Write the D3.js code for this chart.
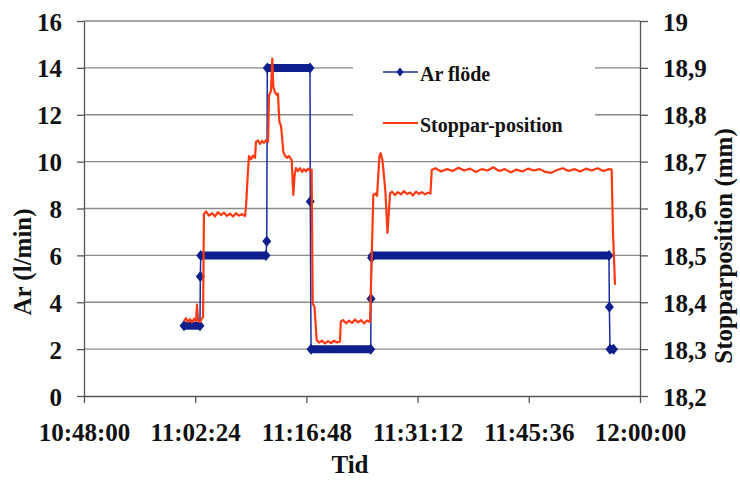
<!DOCTYPE html>
<html>
<head>
<meta charset="utf-8">
<script src="https://cdn.jsdelivr.net/npm/d3@7"></script>
<style>
  body { margin: 0; background: #fff; }
  text { font-family: "Liberation Serif", "Times New Roman", serif; font-weight: bold; fill: #111; }
</style>
</head>
<body>
<div id="chart-area"></div>
<script>
// Data
// ****
const xTicks = ["10:48:00", "11:02:24", "11:16:48", "11:31:12", "11:45:36", "12:00:00"]
const leftTicks = [0, 2, 4, 6, 8, 10, 12, 14, 16]
const rightTicks = [18.2, 18.3, 18.4, 18.5, 18.6, 18.7, 18.8, 18.9, 19]

// Ar flöde (l/min): start and end of each plateau plus the transition samples
const arTimes = ["11:00:57", "11:03:01", "11:03:04", "11:03:07", "11:11:34", "11:11:40",
  "11:11:44", "11:17:16", "11:17:18", "11:17:24", "11:25:08", "11:25:10", "11:25:14",
  "11:25:20", "11:55:59", "11:56:02", "11:56:07", "11:56:34"]
const arFlow = [3, 3, 5.1, 6, 6, 6.6, 14, 14, 8.3, 2, 2, 4.15, 5.9, 6, 6, 3.8, 2, 2]

// Stoppar-position (mm)
const stopTimes = ["11:00:57", "11:01:13", "11:01:28", "11:01:44", "11:01:59", "11:02:15",
  "11:02:30", "11:02:38", "11:02:46", "11:03:01", "11:03:17", "11:03:25", "11:03:32",
  "11:03:48", "11:04:11", "11:04:35", "11:04:58", "11:05:21", "11:05:44", "11:06:08",
  "11:06:31", "11:06:54", "11:07:18", "11:07:41", "11:08:04", "11:08:28", "11:08:51",
  "11:08:59", "11:09:14", "11:09:22", "11:09:38", "11:09:53", "11:10:09", "11:10:16",
  "11:10:32", "11:10:48", "11:11:03", "11:11:19", "11:11:34", "11:11:50", "11:11:58",
  "11:12:13", "11:12:23", "11:12:31", "11:12:44", "11:13:00", "11:13:07", "11:13:18",
  "11:13:31", "11:13:49", "11:14:02", "11:14:17", "11:14:33", "11:14:54", "11:15:06",
  "11:15:16", "11:15:27", "11:15:43", "11:15:58", "11:16:14", "11:16:29", "11:16:45",
  "11:17:00", "11:17:16", "11:17:29", "11:17:37", "11:17:51", "11:18:08", "11:18:26",
  "11:18:49", "11:19:13", "11:19:36", "11:19:59", "11:20:22", "11:20:46", "11:21:09",
  "11:21:15", "11:21:32", "11:21:56", "11:22:19", "11:22:42", "11:23:06", "11:23:29",
  "11:23:52", "11:24:16", "11:24:39", "11:25:02", "11:25:15", "11:25:28", "11:25:41",
  "11:25:57", "11:26:15", "11:26:25", "11:26:39", "11:27:01", "11:27:18", "11:27:38",
  "11:27:53", "11:28:16", "11:28:40", "11:29:03", "11:29:26", "11:29:50", "11:30:13",
  "11:30:36", "11:31:00", "11:31:23", "11:31:46", "11:32:10", "11:32:33", "11:32:52",
  "11:33:02", "11:33:30", "11:34:15", "11:35:00", "11:35:45", "11:36:30", "11:37:15",
  "11:38:00", "11:38:45", "11:39:30", "11:40:15", "11:41:00", "11:41:45", "11:42:30",
  "11:43:15", "11:44:00", "11:44:45", "11:45:30", "11:46:15", "11:47:00", "11:47:45",
  "11:48:30", "11:49:15", "11:50:00", "11:50:45", "11:51:30", "11:52:15", "11:53:00",
  "11:53:45", "11:54:30", "11:55:15", "11:56:00", "11:56:20", "11:56:30", "11:56:46"]
const stopPos = [18.360, 18.366, 18.358, 18.364, 18.357, 18.365,
  18.360, 18.395, 18.362, 18.358, 18.366, 18.368, 18.588,
  18.594, 18.585, 18.590, 18.583, 18.592, 18.586, 18.591,
  18.584, 18.589, 18.583, 18.590, 18.585, 18.588, 18.584,
  18.605, 18.680, 18.712, 18.705, 18.713, 18.708, 18.742,
  18.745, 18.738, 18.744, 18.740, 18.746, 18.742, 18.842,
  18.850, 18.920, 18.860, 18.848, 18.842, 18.845, 18.785,
  18.776, 18.721, 18.713, 18.708, 18.712, 18.703, 18.629,
  18.670, 18.686, 18.680, 18.686, 18.678, 18.684, 18.679,
  18.685, 18.681, 18.683, 18.398, 18.390, 18.319, 18.314,
  18.318, 18.312, 18.317, 18.313, 18.318, 18.314, 18.316,
  18.358, 18.362, 18.355, 18.361, 18.356, 18.363, 18.357,
  18.362, 18.355, 18.361, 18.358, 18.490, 18.629, 18.632,
  18.627, 18.710, 18.718, 18.703, 18.639, 18.548, 18.632,
  18.636, 18.629, 18.635, 18.630, 18.637, 18.631, 18.634,
  18.628, 18.636, 18.631, 18.635, 18.630, 18.634, 18.632,
  18.682, 18.686, 18.679, 18.684, 18.680, 18.687, 18.681,
  18.685, 18.678, 18.684, 18.681, 18.688, 18.680, 18.684,
  18.677, 18.683, 18.679, 18.685, 18.681, 18.684, 18.678,
  18.676, 18.682, 18.686, 18.680, 18.684, 18.679, 18.685,
  18.681, 18.686, 18.680, 18.684, 18.683, 18.550, 18.437]

// Config
// ******
const width = 740, height = 480
const plot = {left: 84, right: 640, top: 21, bottom: 396}
const blue = "#0d1f8c", red = "#ff3a12"
const parseTime = d3.timeParse("%H:%M:%S")
const fmtTime = d3.timeFormat("%H:%M:%S")
const commaFmt = d3.formatLocale({decimal: ",", thousands: " ", grouping: [3], currency: ["", ""]}).format(".3~g")

const svg = d3.select("#chart-area")
  .append("svg")
    .attr("width", width)
    .attr("height", height)

// Scales
// ******
const x = d3.scaleTime()
  .domain([parseTime(xTicks[0]), parseTime(xTicks[xTicks.length - 1])])
  .range([plot.left, plot.right])
const yL = d3.scaleLinear().domain([0, 16]).range([plot.bottom, plot.top])
const yR = d3.scaleLinear().domain([18.2, 19]).range([plot.bottom, plot.top])

// Gridlines
// *********
svg.append("g")
  .selectAll("line")
  .data(leftTicks.slice(1))
  .enter().append("line")
    .attr("x1", plot.left).attr("x2", plot.right)
    .attr("y1", d => yL(d)).attr("y2", d => yL(d))
    .attr("stroke", "#8a8a8a")
    .attr("stroke-width", 1.3)

// Legend background (hides the grid behind it)
svg.append("rect")
  .attr("x", 353).attr("y", 44)
  .attr("width", 242).attr("height", 104)
  .attr("fill", "#fff")

// Axes
// ****
function styleAxis(sel) {
  sel.selectAll("path, line").attr("stroke", "#555").attr("stroke-width", 1.3)
  sel.selectAll("text")
    .style("font-family", '"Liberation Serif", "Times New Roman", serif')
    .style("font-weight", "bold")
    .style("font-size", "25px")
    .attr("fill", "#111")
}

svg.append("g")
  .attr("transform", "translate(" + plot.left + ",0)")
  .call(d3.axisLeft(yL).tickValues(leftTicks).tickSize(7).tickSizeOuter(0).tickPadding(15))
  .call(styleAxis)
  .selectAll("text").attr("dy", "0.36em")

svg.append("g")
  .attr("transform", "translate(" + plot.right + ",0)")
  .call(d3.axisRight(yR).tickValues(rightTicks).tickFormat(commaFmt).tickSize(8).tickSizeOuter(0).tickPadding(15))
  .call(styleAxis)
  .selectAll("text").attr("dy", "0.36em")

svg.append("g")
  .attr("transform", "translate(0," + plot.bottom + ")")
  .call(d3.axisBottom(x).tickValues(xTicks.map(parseTime)).tickFormat(fmtTime).tickSize(7).tickSizeOuter(0).tickPadding(20))
  .call(styleAxis)

// Axis labels
svg.append("text")
  .attr("transform", "translate(31,262) rotate(-90)")
  .attr("text-anchor", "middle")
  .attr("font-size", "25px")
  .text("Ar (l/min)")

svg.append("text")
  .attr("transform", "translate(732,246) rotate(-90)")
  .attr("text-anchor", "middle")
  .attr("font-size", "25px")
  .text("Stopparposition (mm)")

svg.append("text")
  .attr("x", 350).attr("y", 473)
  .attr("text-anchor", "middle")
  .attr("font-size", "25px")
  .text("Tid")

// Ar flöde series
// ***************
const arData = arTimes.map((t, i) => ({t: parseTime(t), v: arFlow[i]}))
const diamond = "M0,-5.5L4.5,0L0,5.5L-4.5,0Z"

svg.append("path")
  .datum(arData)
  .attr("fill", "none")
  .attr("stroke", "#1a2b9e")
  .attr("stroke-width", 1.5)
  .attr("d", d3.line().x(d => x(d.t)).y(d => yL(d.v)))

// dense sampling at constant flow shows up as a solid band of markers
const bands = d3.pairs(arData).filter(p => p[0].v === p[1].v)
svg.append("g")
  .selectAll("line")
  .data(bands)
  .enter().append("line")
    .attr("x1", d => x(d[0].t)).attr("x2", d => x(d[1].t))
    .attr("y1", d => yL(d[0].v)).attr("y2", d => yL(d[1].v))
    .attr("stroke", blue)
    .attr("stroke-width", 8)

svg.append("g")
  .selectAll("path")
  .data(arData)
  .enter().append("path")
    .attr("transform", d => "translate(" + x(d.t) + "," + yL(d.v) + ")")
    .attr("d", diamond)
    .attr("fill", blue)

// Stoppar-position series
// ***********************
const stopData = stopTimes.map((t, i) => ({t: parseTime(t), v: stopPos[i]}))
svg.append("path")
  .datum(stopData)
  .attr("fill", "none")
  .attr("stroke", red)
  .attr("stroke-width", 2.2)
  .attr("stroke-linejoin", "round")
  .attr("d", d3.line().x(d => x(d.t)).y(d => yR(d.v)))

// Legend
// ******
const legend = svg.append("g")
legend.append("line")
  .attr("x1", 383).attr("x2", 418).attr("y1", 72).attr("y2", 72)
  .attr("stroke", "#1a2b9e").attr("stroke-width", 1.5)
legend.append("path")
  .attr("transform", "translate(400,72) scale(0.8)")
  .attr("d", diamond)
  .attr("fill", blue)
legend.append("text")
  .attr("x", 420).attr("y", 81)
  .attr("font-size", "20px")
  .text("Ar flöde")

legend.append("line")
  .attr("x1", 383).attr("x2", 418).attr("y1", 123).attr("y2", 123)
  .attr("stroke", red).attr("stroke-width", 2)
legend.append("text")
  .attr("x", 420).attr("y", 132)
  .attr("font-size", "20px")
  .text("Stoppar-position")
</script>
</body>
</html>
